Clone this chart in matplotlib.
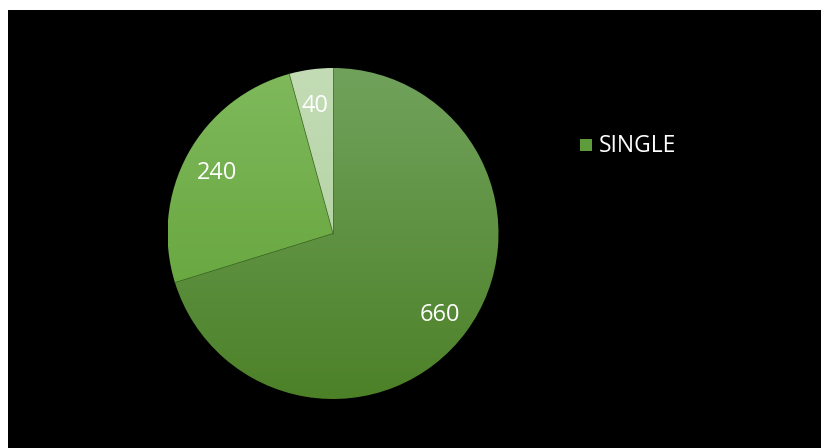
import numpy as np
import matplotlib
matplotlib.use("Agg")
import matplotlib.pyplot as plt
from matplotlib.patches import Rectangle
from matplotlib.colors import to_rgb

plt.rcParams['font.family'] = ['Open Sans', 'DejaVu Sans']

values = [660, 240, 40]
labels = ['660', '240', '40']
series_name = 'SINGLE'

# top / bottom colours of the vertical gradient on each slice
top_colors = ['#71A25C', '#7FB95C', '#C3DCB5']
bottom_colors = ['#4D8128', '#5E9F33', '#AACC98']
legend_color = '#5E9B3A'

W, H = 822, 448
fig = plt.figure(figsize=(W / 100, H / 100), dpi=100)
fig.patch.set_facecolor('white')

# black canvas with a thin white margin on the left and top
fig.patches.append(Rectangle((8 / W, 0), (821 - 8) / W, (H - 10) / H,
                             transform=fig.transFigure, facecolor='black',
                             edgecolor='none', zorder=-5))

# pie axes, a little larger than the pie so the rim is not clipped
cx, cy, r = 333, 233.5, 165.5
pad = 1.05
ax = fig.add_axes([(cx - r * pad) / W, (H - cy - r * pad) / H,
                   2 * r * pad / W, 2 * r * pad / H])
ax.set_zorder(2)
ax.axis('off')

wedges, _ = ax.pie(values, startangle=90, counterclock=False, radius=1,
                   colors=bottom_colors, wedgeprops=dict(linewidth=0))

for w, c_top, c_bot in zip(wedges, top_colors, bottom_colors):
    t = np.linspace(0, 1, 256)[:, None]
    grad = (1 - t) * np.array(to_rgb(c_top)) + t * np.array(to_rgb(c_bot))
    im = ax.imshow(grad[:, None, :].repeat(2, axis=1), extent=(-1, 1, -1, 1),
                   aspect='auto', interpolation='bilinear', zorder=2)
    im.set_clip_path(w)
    w.set_facecolor('none')

ax.set_xlim(-pad, pad)
ax.set_ylim(-pad, pad)
ax.set_aspect('equal')

# thin separators between slices
for w in wedges:
    ang = np.deg2rad(w.theta1)
    ax.plot([0, np.cos(ang)], [0, np.sin(ang)], color='#3F6E22',
            linewidth=0.6, alpha=0.8, zorder=3)

for w, lab in zip(wedges, labels):
    mid = np.deg2rad((w.theta1 + w.theta2) / 2)
    ax.text(0.8 * np.cos(mid), 0.8 * np.sin(mid) - 0.02, lab, color='white',
            fontsize=17, ha='center', va='center', zorder=4)

# legend
fig.patches.append(Rectangle((580 / W, 1 - 151 / H), 12 / W, 12 / H,
                             transform=fig.transFigure, facecolor=legend_color,
                             edgecolor='none', zorder=1))
fig.text(599 / W, 1 - 146 / H, series_name, color='white', fontsize=16.5,
         ha='left', va='center')

fig.savefig('out.png', dpi=100, facecolor=fig.get_facecolor())
